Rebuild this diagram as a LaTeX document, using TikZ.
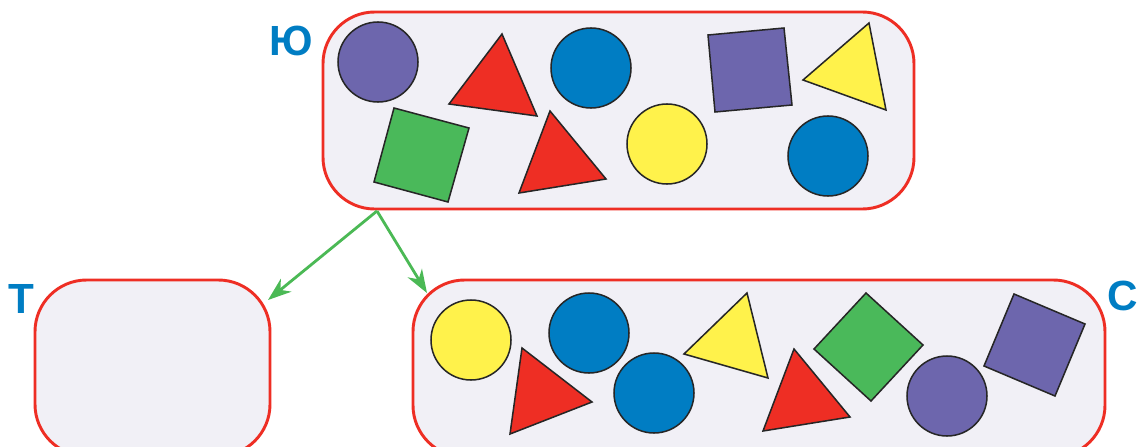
\documentclass[tikz,border=0pt]{standalone}
\usepackage{fontspec}
\newfontfamily\labfont{Liberation Sans}
\usetikzlibrary{arrows.meta}
\definecolor{boxred}{RGB}{238,46,36}
\definecolor{boxfill}{RGB}{241,240,246}
\definecolor{lblue}{RGB}{0,125,195}
\definecolor{arrgreen}{RGB}{75,185,85}
\definecolor{spurple}{RGB}{109,102,173}
\definecolor{sblue}{RGB}{0,125,195}
\definecolor{sgreen}{RGB}{74,185,90}
\definecolor{syellow}{RGB}{255,242,75}
\definecolor{sred}{RGB}{238,46,36}
\tikzset{
  setbox/.style={draw=boxred, fill=boxfill, line width=2.5pt, rounded corners=1.55cm, inner sep=0pt},
  setlabel/.style={text=lblue, font=\labfont\bfseries\fontsize{36}{36}\selectfont, inner sep=0pt, anchor=base},
  arr/.style={draw=arrgreen, line width=2.4pt, -{Stealth[length=0.7cm, width=0.5cm, inset=0.22cm]}},
  fig/.style={draw=black!85, line width=1.3pt, line join=miter},
}
\begin{document}
\begin{tikzpicture}[x=0.03cm,y=-0.03cm]
\useasboundingbox (0,0) rectangle (1138,447);
% boxes
\node[setbox, minimum width=591*0.03cm, minimum height=197*0.03cm] (U) at (618.5,110.5) {};
\node[setbox, minimum width=235*0.03cm, minimum height=176*0.03cm] (T) at (152.5,368) {};
\node[setbox, minimum width=692*0.03cm, minimum height=177*0.03cm] (S) at (759,368.5) {};
% labels
\node[setlabel] (lU) at (291,55) {Ю};
\node[setlabel] (lT) at (21,313) {Т};
\node[setlabel] (lS) at (1123,310) {С};
% arrows
\coordinate (src) at (377,211);
\coordinate (tT) at (268,300);
\coordinate (tS) at (427,293);
\draw[arr] (src) -- (tT);
\draw[arr] (src) -- (tS);
% top set shapes
\filldraw[fig, fill=spurple] (378,62) circle [radius=1.2cm];
\filldraw[fig, fill=sred] (502,34) -- (449,104) -- (537,116) -- cycle;
\filldraw[fig, fill=sblue] (591,68) circle [radius=1.2cm];
\filldraw[fig, fill=sgreen] (394,108) -- (469,128) -- (448,202) -- (374,182) -- cycle;
\filldraw[fig, fill=sred] (550,111) -- (606,179) -- (519,193) -- cycle;
\filldraw[fig, fill=syellow] (667,144) circle [radius=1.2cm];
\filldraw[fig, fill=spurple] (708,35) -- (784,28) -- (792,105) -- (715,112) -- cycle;
\filldraw[fig, fill=syellow] (869,23) -- (803,80) -- (886,110) -- cycle;
\filldraw[fig, fill=sblue] (828,156) circle [radius=1.2cm];
% bottom set shapes
\filldraw[fig, fill=syellow] (471,340) circle [radius=1.2cm];
\filldraw[fig, fill=sblue] (589,333) circle [radius=1.2cm];
\filldraw[fig, fill=sred] (522,348) -- (592,402) -- (510,434) -- cycle;
\filldraw[fig, fill=sblue] (654,393) circle [radius=1.2cm];
\filldraw[fig, fill=syellow] (747,293) -- (684,354) -- (768,378) -- cycle;
\filldraw[fig, fill=sred] (794,349) -- (850,417) -- (763,431) -- cycle;
\filldraw[fig, fill=sgreen] (866,293) -- (923,345) -- (871,401) -- (814,349) -- cycle;
\filldraw[fig, fill=spurple] (947,396) circle [radius=1.2cm];
\filldraw[fig, fill=spurple] (1014,294) -- (1085,324) -- (1055,396) -- (984,366) -- cycle;
\end{tikzpicture}
\end{document}
